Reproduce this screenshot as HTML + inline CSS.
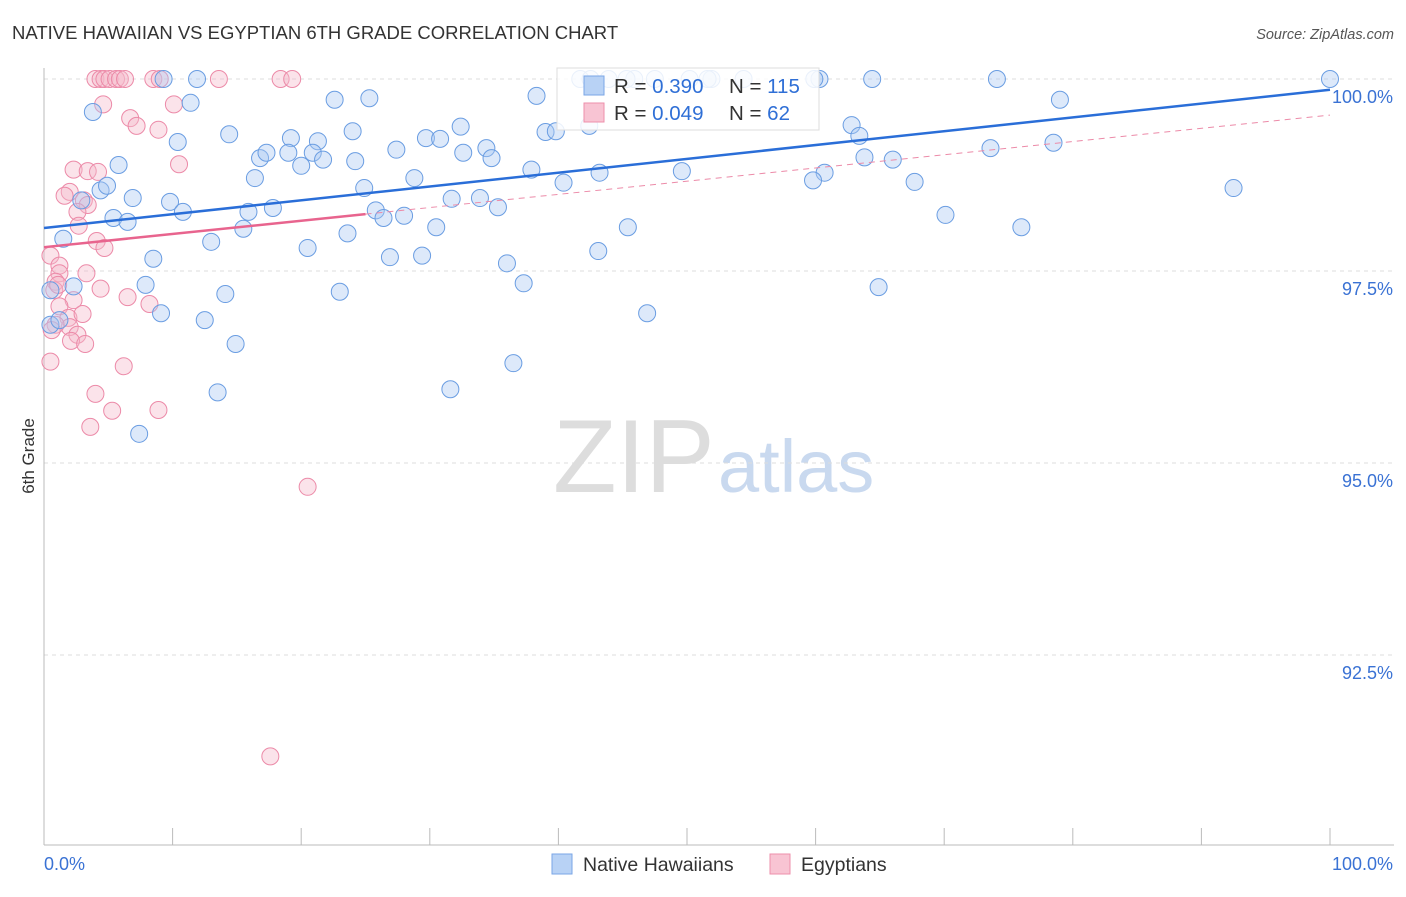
<!DOCTYPE html>
<html><head><meta charset="utf-8"><style>
body{margin:0;background:#fff;font-family:"Liberation Sans",sans-serif}
svg text{font-family:"Liberation Sans",sans-serif}
</style></head><body>
<svg width="1406" height="892" viewBox="0 0 1406 892">
<text x="12" y="39" font-size="18.5" fill="#333">NATIVE HAWAIIAN VS EGYPTIAN 6TH GRADE CORRELATION CHART</text>
<text x="1394" y="39" font-size="14.5" fill="#555" font-style="italic" text-anchor="end">Source: ZipAtlas.com</text>
<g>
<text x="553" y="492" font-size="104" fill="#ddd" font-family="Liberation Serif,serif">ZIP</text>
<text x="718" y="492" font-size="74" fill="#c9d9ef">atlas</text>
</g>
<g id="grid"></g>
<g id="axes"></g>
<g id="pts"></g>
<g id="lines"></g>
<text transform="translate(34,456) rotate(-90)" font-size="17" fill="#333" text-anchor="middle">6th Grade</text>
<g>
<rect x="557" y="68" width="262" height="62" fill="#fff" fill-opacity="0.85" stroke="#ddd"/>
<rect x="584" y="76" width="20" height="19" fill="#b8d2f5" stroke="#7aa6e6"/>
<rect x="584" y="103" width="20" height="19" fill="#f8c4d3" stroke="#ee8fab"/>
<text x="614" y="93" font-size="20.5" fill="#333">R = <tspan fill="#2f6fd6">0.390</tspan></text>
<text x="729" y="93" font-size="20.5" fill="#333">N = <tspan fill="#2f6fd6">115</tspan></text>
<text x="614" y="120" font-size="20.5" fill="#333">R = <tspan fill="#2f6fd6">0.049</tspan></text>
<text x="729" y="120" font-size="20.5" fill="#333">N = <tspan fill="#2f6fd6"> 62</tspan></text>
</g>
<g>
<rect x="552" y="854" width="20" height="20" fill="#b8d2f5" stroke="#7aa6e6"/>
<text x="583" y="871" font-size="19.5" fill="#333">Native Hawaiians</text>
<rect x="770" y="854" width="20" height="20" fill="#f8c4d3" stroke="#ee8fab"/>
<text x="801" y="871" font-size="19.5" fill="#333">Egyptians</text>
</g>
</svg>
<script>
const yTicks=[100,97.5,95,92.5];
const yTickLabels=["100.0%","97.5%","95.0%","92.5%"];
const xTickVals=[0,10,20,30,40,50,60,70,80,90,100];
const blueX=[9.3,11.9,41.7,45.9,47.5,51.9,54.4,60.3,64.4,74.1,100,42.5,43.9,45.3,50.2,51.6,59.9,3.8,11.4,22.6,25.3,38.3,79.0,14.4,10.4,19.2,21.3,24.0,32.4,29.7,30.8,39.0,39.8,42.4,62.8,63.4,5.8,16.8,17.3,19.0,20.9,21.7,24.2,27.4,32.6,34.4,34.8,63.8,66.0,78.5,73.6,20.0,16.4,28.8,37.9,43.2,49.6,60.7,59.8,67.7,92.5,4.4,4.9,2.9,6.9,9.8,24.9,31.7,33.9,35.3,40.4,10.8,15.9,17.8,25.8,26.4,28.0,5.4,6.5,15.5,13.0,23.6,30.5,45.4,70.1,76.0,1.5,20.5,8.5,26.9,29.4,36.0,43.1,2.3,7.9,14.1,23.0,37.3,64.9,9.1,12.5,46.9,14.9,31.6,13.5,36.5,7.4,0.5,1.2,0.5];
const blueY=[100,100,100,100,100,100,100,100,100,100,100,100,100,100,100,100,100,99.57,99.69,99.73,99.75,99.78,99.73,99.28,99.18,99.23,99.19,99.32,99.38,99.23,99.22,99.31,99.32,99.39,99.40,99.26,98.88,98.97,99.04,99.04,99.04,98.95,98.93,99.08,99.04,99.10,98.97,98.98,98.95,99.17,99.10,98.87,98.71,98.71,98.82,98.78,98.80,98.78,98.68,98.66,98.58,98.55,98.61,98.42,98.45,98.40,98.58,98.44,98.45,98.33,98.65,98.27,98.27,98.32,98.29,98.19,98.22,98.19,98.14,98.05,97.88,97.99,98.07,98.07,98.23,98.07,97.92,97.80,97.66,97.68,97.70,97.60,97.76,97.30,97.32,97.20,97.23,97.34,97.29,96.95,96.86,96.95,96.55,95.96,95.92,96.30,95.38,96.80,96.86,97.25];
const pinkX=[4.0,4.4,4.7,5.1,5.6,5.9,6.3,8.5,9.0,13.6,18.4,19.3,4.6,6.7,7.2,8.9,10.1,10.5,2.3,3.4,4.2,2.0,1.6,3.1,3.4,2.6,2.7,4.1,4.7,0.5,1.2,1.2,3.3,0.9,0.8,4.4,6.5,2.3,8.2,1.2,1.9,3.0,2.0,2.6,2.1,3.2,0.5,6.2,4.0,5.3,8.9,3.6,20.5,17.6,0.9,0.6,1.1];
const pinkY=[100,100,100,100,100,100,100,100,100,100,100,100,99.67,99.49,99.39,99.34,99.67,98.89,98.82,98.80,98.79,98.53,98.48,98.42,98.36,98.27,98.09,97.89,97.80,97.70,97.57,97.47,97.47,97.36,97.25,97.27,97.16,97.12,97.07,97.04,96.89,96.94,96.77,96.67,96.59,96.55,96.32,96.26,95.90,95.68,95.69,95.47,94.69,91.18,96.80,96.73,97.32];
const blueTrend=[98.06,99.86];
const pinkTrend=[97.81,99.53];
const pinkSolidEnd=25;
const NS="http://www.w3.org/2000/svg";
const X=v=>44+v*12.86, Y=v=>79+(100-v)*76.8;
function mk(t,a,p){const e=document.createElementNS(NS,t);for(const k in a)e.setAttribute(k,a[k]);document.getElementById(p).appendChild(e);return e;}
yTicks.forEach((t,i)=>{
 const g=mk('line',{x1:44,x2:1394,y1:Y(t),y2:Y(t),stroke:'#ddd','stroke-dasharray':'4,4'},'grid');
 
 
 const l=mk('text',{x:1393,y:Y(t)+24,'font-size':18,fill:'#3a72d4','text-anchor':'end'},'grid');
 l.textContent=yTickLabels[i];
 
 
});
const ax=mk('line',{x1:44,x2:44,y1:68,y2:845,stroke:'#bbb'},'axes');


const bx=mk('line',{x1:44,x2:1394,y1:845,y2:845,stroke:'#bbb'},'axes');


xTickVals.forEach(v=>{
 const t=mk('line',{x1:X(v),x2:X(v),y1:828,y2:845,stroke:'#bbb'},'axes');
 
 
});
const xl0=mk('text',{x:44,y:870,'font-size':18,fill:'#3a72d4'},'axes');xl0.textContent='0.0%';


const xl1=mk('text',{x:1393,y:870,'font-size':18,fill:'#3a72d4','text-anchor':'end'},'axes');xl1.textContent='100.0%';


pinkX.forEach((x,i)=>{
 const c=mk('circle',{cx:X(x),cy:Y(pinkY[i]),r:8.5,fill:'#f6b8ca',"fill-opacity":0.4,stroke:'#ec8aa8','stroke-width':1},'pts');
 
 
});
blueX.forEach((x,i)=>{
 const c=mk('circle',{cx:X(x),cy:Y(blueY[i]),r:8.5,fill:'#a9c8f2',"fill-opacity":0.4,stroke:'#6a9de2','stroke-width':1},'pts');
 
 
});
const bl=mk('line',{x1:X(0),y1:Y(blueTrend[0]),x2:X(100),y2:Y(blueTrend[1]),stroke:'#2a6ed8','stroke-width':2.5},'lines');


const pAt=x=>pinkTrend[0]+(pinkTrend[1]-pinkTrend[0])*x/100;
const pl=mk('line',{x1:X(0),y1:Y(pinkTrend[0]),x2:X(pinkSolidEnd),y2:Y(pAt(pinkSolidEnd)),stroke:'#e8648e','stroke-width':2.5},'lines');


const pd=mk('line',{x1:X(pinkSolidEnd),y1:Y(pAt(pinkSolidEnd)),x2:X(100),y2:Y(pinkTrend[1]),stroke:'#ec8aa8','stroke-width':1,'stroke-dasharray':'6,5'},'lines');


</script>
</body></html>
